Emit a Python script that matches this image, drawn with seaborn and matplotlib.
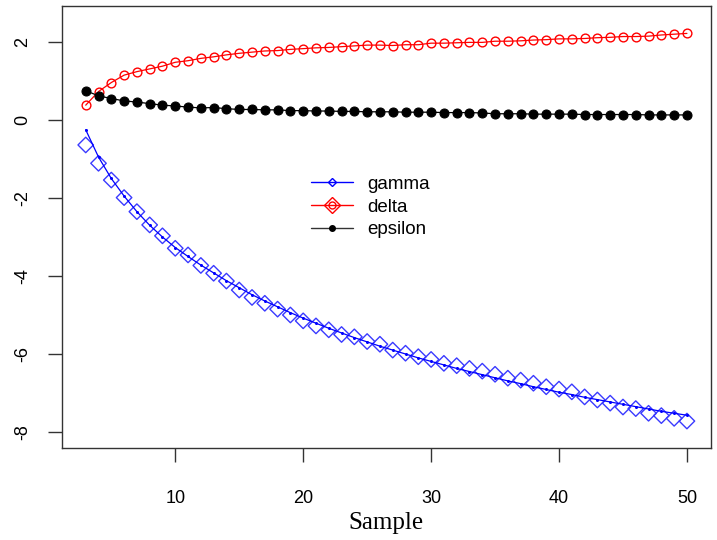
import matplotlib
matplotlib.use("Agg")
import matplotlib.pyplot as plt
from matplotlib.lines import Line2D
import seaborn as sns
import pandas as pd

sample = list(range(3, 51))

gamma_line = [-0.25, -0.95, -1.50, -1.95, -2.35, -2.70, -3.00, -3.27, -3.50, -3.72,
              -3.92, -4.12, -4.30, -4.48, -4.64, -4.79, -4.94, -5.08, -5.21, -5.34,
              -5.46, -5.58, -5.69, -5.80, -5.90, -6.00, -6.10, -6.19, -6.28, -6.37,
              -6.45, -6.53, -6.61, -6.69, -6.76, -6.84, -6.91, -6.98, -7.04, -7.11,
              -7.17, -7.23, -7.29, -7.35, -7.41, -7.47, -7.52, -7.57]

gamma_pts = [-0.64, -1.11, -1.54, -1.99, -2.35, -2.69, -2.97, -3.29, -3.46, -3.73,
             -3.93, -4.13, -4.36, -4.55, -4.70, -4.85, -5.00, -5.15, -5.28, -5.38,
             -5.50, -5.56, -5.68, -5.75, -5.90, -5.98, -6.07, -6.14, -6.24, -6.30,
             -6.37, -6.44, -6.52, -6.62, -6.67, -6.75, -6.84, -6.90, -6.97, -7.10,
             -7.18, -7.26, -7.36, -7.40, -7.52, -7.58, -7.65, -7.72]

delta = [0.38, 0.73, 0.96, 1.15, 1.24, 1.31, 1.38, 1.48, 1.52, 1.58,
         1.62, 1.67, 1.71, 1.74, 1.77, 1.78, 1.81, 1.83, 1.85, 1.86,
         1.88, 1.90, 1.92, 1.92, 1.91, 1.93, 1.93, 1.97, 1.97, 1.98,
         1.99, 1.99, 2.02, 2.02, 2.03, 2.05, 2.06, 2.08, 2.08, 2.09,
         2.11, 2.12, 2.14, 2.14, 2.15, 2.18, 2.20, 2.22]

epsilon = [0.75, 0.62, 0.55, 0.49, 0.46, 0.42, 0.38, 0.36, 0.33, 0.31,
           0.32, 0.29, 0.27, 0.27, 0.26, 0.26, 0.24, 0.24, 0.23, 0.23,
           0.22, 0.22, 0.21, 0.21, 0.21, 0.20, 0.20, 0.20, 0.19, 0.19,
           0.19, 0.18, 0.16, 0.16, 0.16, 0.15, 0.15, 0.15, 0.15, 0.14,
           0.14, 0.14, 0.14, 0.14, 0.13, 0.13, 0.13, 0.13]

labels = ["gamma", "delta", "epsilon"]
x_ticks = [10, 20, 30, 40, 50]
y_ticks = [-8, -6, -4, -2, 0, 2]

sns.set_style("white")
plt.rcParams["font.family"] = ["Liberation Sans", "DejaVu Sans"]
plt.rcParams["text.color"] = "black"
plt.rcParams["xtick.color"] = "#333333"
plt.rcParams["ytick.color"] = "#333333"
plt.rcParams["xtick.labelcolor"] = "black"
plt.rcParams["ytick.labelcolor"] = "black"

fig = plt.figure(figsize=(7.17, 5.40), dpi=100)
ax = fig.add_axes([0.086, 0.1704, 0.9056, 0.819])

df = pd.DataFrame({"Sample": sample, "gamma": gamma_line, "gamma_pts": gamma_pts,
                   "delta": delta, "epsilon": epsilon})

BLUE = "#0000ff"
RED = "#ff0000"

sns.lineplot(data=df, x="Sample", y="gamma", ax=ax, color=BLUE, lw=0.9,
             marker="o", markersize=2.2, markeredgewidth=0, markerfacecolor=BLUE)
sns.scatterplot(data=df, x="Sample", y="gamma_pts", ax=ax, marker="D", s=62,
                facecolor="none", edgecolor="#3a3aff", linewidth=1.0)
sns.lineplot(data=df, x="Sample", y="delta", ax=ax, color=RED, lw=0.9,
             marker="o", markersize=6.3, markerfacecolor="none",
             markeredgecolor=RED, markeredgewidth=1.0)
sns.lineplot(data=df, x="Sample", y="epsilon", ax=ax, color="black", lw=0.9,
             marker="o", markersize=6.5, markerfacecolor="black",
             markeredgecolor="black")

ax.set_xlim(1.12, 51.88)
ax.set_ylim(-8.41, 2.93)
ax.set_xticks(x_ticks)
ax.set_yticks(y_ticks)
ax.set_xticklabels([str(t) for t in x_ticks], fontsize=13, color="black")
ax.set_yticklabels([str(t) for t in y_ticks], fontsize=13, rotation=90, va="center",
                   color="black")
ax.tick_params(axis="both", direction="out", length=10, width=1.0, color="#333333",
               left=True, bottom=True)
ax.tick_params(axis="x", pad=20)
ax.tick_params(axis="y", pad=12)
for sp in ax.spines.values():
    sp.set_visible(True)
    sp.set_color("#333333")
    sp.set_linewidth(1.0)
ax.set_ylabel("")
ax.set_xlabel("Sample", fontsize=18, family=["Liberation Serif", "DejaVu Serif"],
              labelpad=4, color="black")

h_gamma = Line2D([], [], color=BLUE, lw=1.0, marker="D", markersize=4,
                 markerfacecolor="none", markeredgecolor=BLUE)
h_delta_d = Line2D([], [], color=RED, lw=1.0, marker="D", markersize=8,
                   markerfacecolor="none", markeredgecolor=RED)
h_delta_c = Line2D([], [], color=RED, lw=0, marker="o", markersize=5,
                   markerfacecolor="none", markeredgecolor=RED)
h_eps = Line2D([], [], color="#333333", lw=1.0, marker="o", markersize=4,
               markerfacecolor="black", markeredgecolor="black")
leg = ax.legend([h_gamma, (h_delta_d, h_delta_c), h_eps], labels,
                loc="center left", bbox_to_anchor=(302 / 717, 1 - 207 / 540),
                bbox_transform=fig.transFigure, frameon=False, fontsize=13.5,
                handlelength=2.2, handletextpad=0.8, labelspacing=0.3, borderpad=0)
for t in leg.get_texts():
    t.set_color("black")

fig.savefig("out.png", dpi=100)
